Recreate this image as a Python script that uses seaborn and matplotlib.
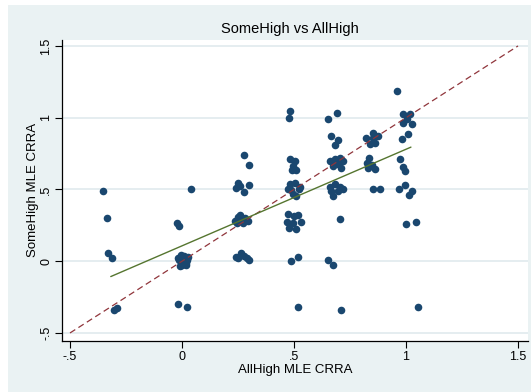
import numpy as np
import pandas as pd
import matplotlib
matplotlib.use("Agg")
import matplotlib.pyplot as plt
import seaborn as sns

# ---- data ----
allhigh = [
    -0.351, -0.333, -0.329, -0.311, -0.302, -0.289,
    -0.024, -0.013, 0.040, -0.017, 0.021,
    -0.020, 0.000, 0.020, 0.025, -0.010, 0.010, 0.022, -0.015, 0.000, 0.012, -0.005, 0.018,
    0.277, 0.299,
    0.251, 0.241, 0.259, 0.278, 0.299,
    0.237, 0.251, 0.266, 0.281, 0.296, 0.244, 0.274, 0.259,
    0.240, 0.263, 0.278, 0.289, 0.299, 0.251,
    0.481, 0.476,
    0.481, 0.503, 0.491, 0.510, 0.496,
    0.481, 0.503, 0.521, 0.488, 0.510, 0.496, 0.473, 0.528,
    0.475, 0.500, 0.520, 0.470, 0.497, 0.530, 0.479, 0.509,
    0.488, 0.518, 0.518,
    0.652, 0.692,
    0.664, 0.696, 0.682,
    0.659, 0.682, 0.704, 0.696, 0.711, 0.674, 0.719,
    0.659, 0.682, 0.704, 0.719, 0.674, 0.696, 0.667,
    0.707, 0.652, 0.674, 0.711,
    0.961,
    0.988, 1.018, 0.988, 1.025, 1.003,
    0.821, 0.851, 0.876, 0.839, 0.862, 0.854,
    0.981, 1.010,
    0.836, 0.827, 0.847, 0.862, 0.832,
    0.973, 0.985, 0.996,
    0.851, 0.884,
    0.970, 0.996, 1.025, 1.015,
    1.000, 1.045, 1.055,
]
somehigh = [
    0.488, 0.298, 0.054, 0.021, -0.337, -0.323,
    0.268, 0.244, 0.500, -0.297, -0.321,
    0.020, 0.000, -0.010, 0.030, -0.030, 0.035, 0.005, 0.010, -0.025, 0.018, 0.040, -0.028,
    0.737, 0.667,
    0.542, 0.507, 0.523, 0.481, 0.528,
    0.279, 0.310, 0.291, 0.303, 0.279, 0.263, 0.268, 0.319,
    0.031, 0.054, 0.035, 0.024, 0.007, 0.024,
    1.046, 1.000,
    0.714, 0.697, 0.639, 0.635, 0.662,
    0.535, 0.547, 0.505, 0.495, 0.453, 0.465, 0.500, 0.520,
    0.330, 0.315, 0.325, 0.275, 0.268, 0.272, 0.233, 0.221,
    0.000, 0.031, -0.318,
    0.993, 1.030,
    0.872, 0.844, 0.807,
    0.697, 0.709, 0.721, 0.674, 0.651, 0.662, 0.697,
    0.519, 0.535, 0.519, 0.500, 0.453, 0.488, 0.488,
    0.291, 0.005, -0.028, -0.342,
    1.186,
    1.023, 1.023, 0.965, 0.958, 0.993,
    0.861, 0.895, 0.872, 0.814, 0.826, 0.861,
    0.849, 0.884,
    0.721, 0.686, 0.667, 0.644, 0.651,
    0.709, 0.658, 0.628,
    0.505, 0.500,
    0.505, 0.528, 0.488, 0.458,
    0.261, 0.272, -0.318,
]
# 45-degree reference line and fitted line endpoints
diag_x = [-0.5, 1.5]
diag_y = [-0.5, 1.5]
fit_x = [-0.318, 1.022]
fit_y = [-0.107, 0.795]
tick_vals = [-0.5, 0, 0.5, 1, 1.5]
tick_labels = ["-.5", "0", ".5", "1", "1.5"]

title = "SomeHigh vs AllHigh"
xlabel = "AllHigh MLE CRRA"
ylabel = "SomeHigh MLE CRRA"

# ---- style ----
sns.set_style("white")
plt.rcParams["font.family"] = ["Liberation Sans", "DejaVu Sans"]

BG = "#EAF2F3"
W, H = 531, 392
fig = plt.figure(figsize=(W / 100, H / 100), dpi=100, facecolor=BG)
ax = fig.add_axes([62 / W, 1 - 341 / H, (528 - 62) / W, (341 - 39.5) / H])
ax.set_facecolor("white")

df = pd.DataFrame({"AllHigh": allhigh, "SomeHigh": somehigh})

ax.plot(diag_x, diag_y, color="#90353B", lw=0.9, linestyle=(0, (5, 3)), zorder=3)
sns.scatterplot(data=df, x="AllHigh", y="SomeHigh", ax=ax, color="#1A476F",
                s=30, linewidth=0, zorder=2, legend=False)
sns.lineplot(x=fit_x, y=fit_y, ax=ax, color="#55752F", lw=1.0, zorder=4)

ax.set_xlim(-0.5357, 1.5446)
ax.set_ylim(-0.556, 1.545)

ax.set_xticks(tick_vals)
ax.set_xticklabels(tick_labels)
ax.set_yticks(tick_vals)
ax.set_yticklabels(tick_labels, rotation=90, va="center")

ax.yaxis.grid(True, color="#E3ECEF", lw=1.3)
ax.xaxis.grid(False)
ax.set_axisbelow(True)

for s in ["top", "right"]:
    ax.spines[s].set_visible(False)
for s in ["left", "bottom"]:
    ax.spines[s].set_color("black")
    ax.spines[s].set_linewidth(0.9)

ax.tick_params(axis="both", which="major", direction="out", length=5, width=0.8,
               color="black", labelsize=9, labelcolor="black", pad=2, left=True, bottom=True)

ax.set_xlabel(xlabel, fontsize=9.5, color="black", labelpad=1)
ax.set_ylabel(ylabel, fontsize=9.5, color="black", labelpad=1)

fig.text(289.5 / W, 1 - 29 / H, title, ha="center", va="center", fontsize=10.5, color="black")

# page strips from the reference crop
fig.patches.append(matplotlib.patches.Rectangle((0, 1 - 5 / H), 1, 5 / H, transform=fig.transFigure,
                                                 facecolor="white", edgecolor="none", zorder=-1))
fig.patches.append(matplotlib.patches.Rectangle((0, 0), 8 / W, 1, transform=fig.transFigure,
                                                 facecolor="white", edgecolor="none", zorder=-1))

fig.savefig("out.png", dpi=100, facecolor=BG)
